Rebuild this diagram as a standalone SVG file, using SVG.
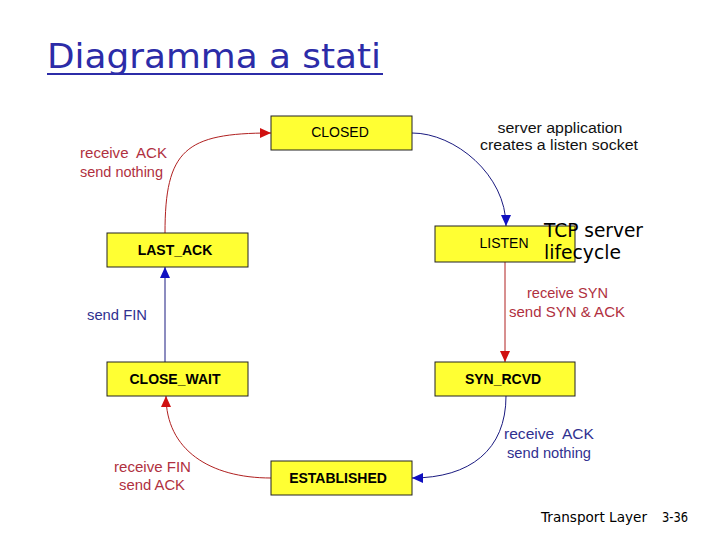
<svg xmlns="http://www.w3.org/2000/svg" width="720" height="540" viewBox="0 0 720 540">
<style>
.box{fill:#ffff33;stroke:#222;stroke-width:1}
.st{font-family:"Liberation Sans",Arial,sans-serif;font-size:14px;fill:#000;text-anchor:middle}
.b{font-weight:bold}
.lr{font-family:"Liberation Sans",Arial,sans-serif;font-size:14px;fill:#b03040}
.lb{font-family:"Liberation Sans",Arial,sans-serif;font-size:14px;fill:#303090}
.lk{font-family:"Liberation Sans",Arial,sans-serif;font-size:14px;fill:#111}
.hand{font-family:"DejaVu Sans",sans-serif;fill:#000}
.red{fill:none;stroke:#b02020;stroke-width:1}
.blue{fill:none;stroke:#1a1a80;stroke-width:1}
</style>
<defs>
<marker id="ar" markerUnits="userSpaceOnUse" markerWidth="12" markerHeight="10" refX="11" refY="5" orient="auto"><path d="M0,0 L11,5 L0,10 Z" fill="#d01010"/></marker>
<marker id="ab" markerUnits="userSpaceOnUse" markerWidth="12" markerHeight="10" refX="11" refY="5" orient="auto"><path d="M0,0 L11,5 L0,10 Z" fill="#1010c0"/></marker>
</defs>
<rect width="720" height="540" fill="#fff"/>
<g id="title">
<text x="47" y="68" font-family="'DejaVu Sans',sans-serif" font-size="34" fill="#2c2ca8" textLength="334" lengthAdjust="spacingAndGlyphs">Diagramma a stati</text>
<line x1="47" y1="74" x2="383" y2="74" stroke="#2c2ca8" stroke-width="2"/>
</g>
<g id="connectors">
<path class="red" d="M165,233 C165,150 185,133 271,133" marker-end="url(#ar)"/>
<path class="blue" d="M412,133 C455,133 506,175 506,226" marker-end="url(#ab)"/>
<path class="red" d="M505,262 L505,362" stroke-width="1.5" marker-end="url(#ar)"/>
<path class="blue" d="M506,396 C506,450 470,478 412,478" marker-end="url(#ab)"/>
<path class="red" d="M271,478 C210,478 166,450 166,396" marker-end="url(#ar)"/>
<path class="blue" d="M165,362 L165,267" stroke-width="1.5" marker-end="url(#ab)"/>
</g>
<g id="closed"><rect class="box" x="271" y="116" width="141" height="34"/><text class="st" x="340" y="137">CLOSED</text></g>
<g id="listen"><rect class="box" x="435" y="226" width="140" height="36"/><text class="st" x="504" y="248">LISTEN</text></g>
<g id="syn_rcvd"><rect class="box" x="435" y="362" width="140" height="34"/><text class="st b" x="503" y="384">SYN_RCVD</text></g>
<g id="established"><rect class="box" x="271" y="461" width="141" height="34"/><text class="st b" x="338" y="483">ESTABLISHED</text></g>
<g id="close_wait"><rect class="box" x="107" y="362" width="141" height="34"/><text class="st b" x="175" y="384">CLOSE_WAIT</text></g>
<g id="last_ack"><rect class="box" x="107" y="233" width="141" height="34"/><text class="st b" x="175" y="255">LAST_ACK</text></g>
<g id="labels">
<text class="lr" x="80" y="158" textLength="87" lengthAdjust="spacingAndGlyphs" xml:space="preserve">receive  ACK</text>
<text class="lr" x="80" y="177" textLength="83" lengthAdjust="spacingAndGlyphs">send nothing</text>
<text class="lk" x="560" y="133" text-anchor="middle" textLength="125" lengthAdjust="spacingAndGlyphs">server application</text>
<text class="lk" x="559" y="150" text-anchor="middle" textLength="158" lengthAdjust="spacingAndGlyphs">creates a listen socket</text>
<text class="hand" x="544" y="237" font-size="19" textLength="99" lengthAdjust="spacingAndGlyphs">TCP server</text>
<text class="hand" x="544" y="259" font-size="19" textLength="77" lengthAdjust="spacingAndGlyphs">lifecycle</text>
<text class="lb" x="87" y="320" textLength="60" lengthAdjust="spacingAndGlyphs">send FIN</text>
<text class="lr" x="527" y="298" textLength="81" lengthAdjust="spacingAndGlyphs">receive SYN</text>
<text class="lr" x="509" y="317" textLength="116" lengthAdjust="spacingAndGlyphs">send SYN &amp; ACK</text>
<text class="lb" x="504" y="439" textLength="90" lengthAdjust="spacingAndGlyphs" xml:space="preserve">receive  ACK</text>
<text class="lb" x="507" y="458" textLength="84" lengthAdjust="spacingAndGlyphs">send nothing</text>
<text class="lr" x="114" y="472" textLength="77" lengthAdjust="spacingAndGlyphs">receive FIN</text>
<text class="lr" x="119" y="490" textLength="66" lengthAdjust="spacingAndGlyphs">send ACK</text>
</g>
<g id="footer">
<text class="hand" x="541" y="522" font-size="14" textLength="106" lengthAdjust="spacingAndGlyphs">Transport Layer</text>
<text class="hand" x="662" y="522" font-size="14" textLength="26" lengthAdjust="spacingAndGlyphs">3-36</text>
</g>
</svg>
